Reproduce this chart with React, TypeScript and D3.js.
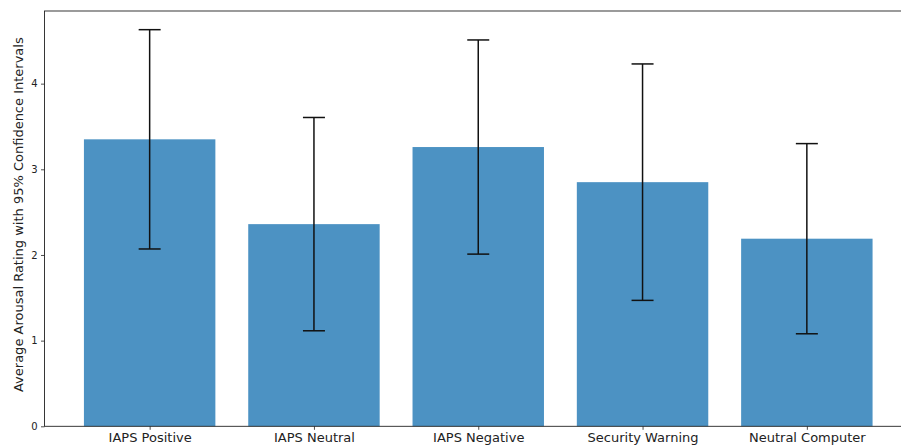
import React, { useRef, useEffect } from 'react';
import * as d3 from 'd3';

// --- Data ---
const categories = ['IAPS Positive', 'IAPS Neutral', 'IAPS Negative', 'Security Warning', 'Neutral Computer'];
const means = [3.35, 2.36, 3.26, 2.85, 2.19];
const ciHalf = [1.28, 1.245, 1.25, 1.38, 1.11];
const yTicks = [0, 1, 2, 3, 4];

const W = 901;
const H = 448;

const App = () => {
    const ref = useRef<SVGSVGElement>(null);

    useEffect(() => {
        const svg = d3.select(ref.current);
        svg.selectAll('*').remove();

        const margin = { top: 11, left: 44.5, bottom: 426.3 };
        const plotRight = 912; // axes run past the cropped right edge

        // x: bar index -> pixels, with matplotlib-like margins
        const x = d3.scaleLinear().domain([-0.64, 4.64]).range([margin.left, plotRight]);
        const y = d3.scaleLinear().domain([0, 4.848]).range([margin.bottom, margin.top]);
        const barW = x(0.4) - x(-0.4);

        const font = 'DejaVu Sans, sans-serif';

        // Bars
        svg.append('g')
            .selectAll('rect')
            .data(means)
            .enter()
            .append('rect')
            .attr('x', (d, i) => x(i) - barW / 2)
            .attr('y', d => y(d))
            .attr('width', barW)
            .attr('height', d => y(0) - y(d))
            .attr('fill', '#1f77b4')
            .attr('fill-opacity', 0.8);

        // Error bars
        const err = svg.append('g').attr('stroke', '#111').attr('stroke-width', 1.5);
        means.forEach((m, i) => {
            const cx = x(i);
            const lo = y(m - ciHalf[i]);
            const hi = y(m + ciHalf[i]);
            err.append('line').attr('x1', cx).attr('x2', cx).attr('y1', lo).attr('y2', hi);
            err.append('line').attr('x1', cx - 11).attr('x2', cx + 11).attr('y1', lo).attr('y2', lo);
            err.append('line').attr('x1', cx - 11).attr('x2', cx + 11).attr('y1', hi).attr('y2', hi);
        });

        // Y axis
        const yAxis = svg.append('g')
            .attr('transform', `translate(${margin.left},0)`)
            .call(d3.axisLeft(y).tickValues(yTicks).tickFormat(d3.format('d')).tickSize(3.5).tickPadding(3.5));
        yAxis.select('.domain').remove();
        yAxis.selectAll('.tick line').attr('stroke', '#222').attr('stroke-width', 0.8);
        yAxis.selectAll('text').attr('fill', '#222').style('font-family', font).style('font-size', '10px');

        // X axis
        const xAxis = svg.append('g')
            .attr('transform', `translate(0,${margin.bottom})`)
            .call(d3.axisBottom(x).tickValues(d3.range(categories.length)).tickFormat((d: any) => categories[d]).tickSize(3.5).tickPadding(3));
        xAxis.select('.domain').remove();
        xAxis.selectAll('.tick line').attr('stroke', '#222').attr('stroke-width', 0.8);
        xAxis.selectAll('text').attr('fill', '#222').style('font-family', font).style('font-size', '13px');

        // Spines
        svg.append('rect')
            .attr('x', margin.left)
            .attr('y', margin.top)
            .attr('width', plotRight - margin.left)
            .attr('height', margin.bottom - margin.top)
            .attr('fill', 'none')
            .attr('stroke', '#222')
            .attr('stroke-width', 0.9);

        // Y label
        svg.append('text')
            .attr('transform', `translate(23,${(margin.top + margin.bottom) / 2 - 4}) rotate(-90)`)
            .attr('text-anchor', 'middle')
            .attr('fill', '#222')
            .style('font-family', font)
            .style('font-size', '13px')
            .text('Average Arousal Rating with 95% Confidence Intervals');
    }, []);

    return (
        <svg ref={ref} width={W} height={H}
            style={{ position: 'absolute', left: 0, top: 0, background: '#fff', display: 'block' }} />
    );
};

export default App;
